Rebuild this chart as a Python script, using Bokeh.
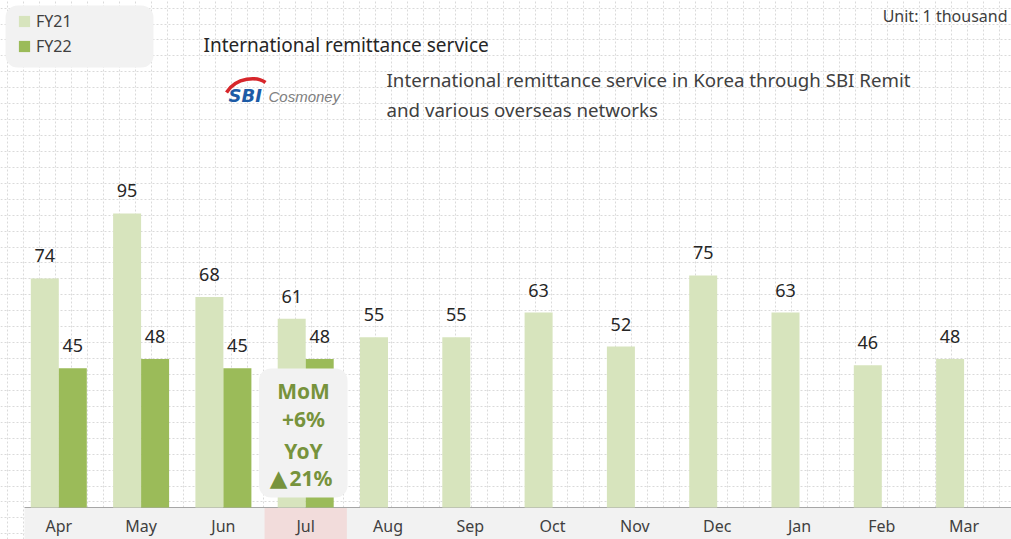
import numpy as np
from bokeh.plotting import figure
from bokeh.models import Range1d, FixedTicker, Legend, LegendItem, BoxAnnotation, Label
from bokeh.core.properties import value
from bokeh.embed import file_html
from bokeh.resources import INLINE

# ---------------- data ----------------
months = ["Apr", "May", "Jun", "Jul", "Aug", "Sep", "Oct", "Nov", "Dec", "Jan", "Feb", "Mar"]
fy21 = [74, 95, 68, 61, 55, 55, 63, 52, 75, 63, 46, 48]
fy22 = [45, 48, 45, 48]
series_names = ["FY21", "FY22"]
highlight_month = "Jul"
callout_lines = ["MoM", "+6%", "YoY", "\u25b221%"]
title_text = "International remittance service"
subtitle_lines = ["International remittance service in Korea through SBI Remit",
                  "and various overseas networks"]
unit_text = "Unit: 1 thousand"

# ---------------- layout helpers ----------------
W, H = 1011, 539
X0, DX = 58.3, 82.3      # pixel centre of first category, category spacing
BASE, PPU = 507, 3.095   # baseline pixel, pixels per unit

def X(px):
    return (px - X0) / DX

def Y(py):
    return (BASE - py) / PPU

FONT = "Noto Sans"
C21, C22 = "#d7e4bd", "#9bbb59"

p = figure(width=W, height=H, output_backend="svg", toolbar_location=None,
           x_range=Range1d(X(0), X(W)), y_range=Range1d(Y(H), Y(0)),
           min_border=0, min_border_left=0, min_border_right=0,
           min_border_top=0, min_border_bottom=0)
p.outline_line_color = None
p.background_fill_color = "white"
p.border_fill_color = "white"

# dotted background grid
gx = [X(6.7 + 16 * k) for k in range(64)]
gy = [Y(7.6 + 15.93 * k) for k in range(34)]
p.xgrid.ticker = FixedTicker(ticks=gx)
p.ygrid.ticker = FixedTicker(ticks=gy)
for g in (p.xgrid, p.ygrid):
    g.grid_line_color = "#dadada"
    g.grid_line_dash = "2 2"
    g.grid_line_width = 1

idx = np.arange(len(months))
BW = 28 / DX

# axis strip
p.quad(left=X(24), right=X(W), bottom=Y(H), top=0, fill_color="#f2f2f2", line_color=None)
hi = months.index(highlight_month)
p.quad(left=hi - 0.5, right=hi + 0.5, bottom=Y(H), top=0, fill_color="#f2dcdb", line_color=None)
p.segment(x0=X(24), x1=X(W), y0=0, y1=0, line_color="#a6a6a6", line_width=1)

# bars
r21 = p.vbar(x=idx - BW / 2, top=fy21, width=BW, fill_color=C21, line_color=None)
r22 = p.vbar(x=idx[:len(fy22)] + BW / 2, top=fy22, width=BW, fill_color=C22, line_color=None)

# value labels
p.text(x=idx - BW / 2, y=fy21, text=[str(v) for v in fy21], text_align="center",
       text_baseline="bottom", y_offset=-16, text_font=value(FONT), text_font_size="18px",
       text_color="#262626")
p.text(x=idx[:len(fy22)] + BW / 2, y=fy22, text=[str(v) for v in fy22], text_align="center",
       text_baseline="bottom", y_offset=-16, text_font=value(FONT), text_font_size="18px",
       text_color="#262626")

# axes
p.yaxis.visible = False
xa = p.xaxis[0]
xa.fixed_location = 0
xa.ticker = FixedTicker(ticks=list(idx))
xa.major_label_overrides = {int(i): m for i, m in zip(idx, months)}
xa.major_tick_line_color = None
xa.minor_tick_line_color = None
xa.major_tick_out = 0
xa.major_tick_in = 0
xa.minor_tick_out = 0
xa.axis_line_color = None
xa.major_label_standoff = 7
xa.major_label_text_font = FONT
xa.major_label_text_font_size = "16px"
xa.major_label_text_color = "#404040"

# legend with rounded background
p.add_layout(BoxAnnotation(left=X(5), right=X(153), top=Y(5), bottom=Y(67),
                           fill_color="#f2f2f2", fill_alpha=1, line_color=None,
                           border_radius=12))
legend = Legend(items=[LegendItem(label=series_names[0], renderers=[r21]),
                       LegendItem(label=series_names[1], renderers=[r22])],
                location=(5, H - 69), orientation="vertical",
                glyph_width=14, glyph_height=14, label_height=14, label_standoff=5,
                spacing=3, padding=12, margin=0,
                label_text_font=FONT, label_text_font_size="16px", label_text_color="#404040",
                background_fill_alpha=0, border_line_alpha=0)
p.add_layout(legend)

# titles
p.add_layout(Label(x=X(203), y=Y(44), text=title_text, text_font=FONT, text_font_size="19px",
                   text_color="#262626", text_baseline="middle", text_align="left"))
for k, line in enumerate(subtitle_lines):
    p.add_layout(Label(x=X(386), y=Y(79 + 30 * k), text=line, text_font=FONT,
                       text_font_size="18.7px", text_color="#404040",
                       text_baseline="middle", text_align="left"))
p.add_layout(Label(x=X(1007), y=Y(15), text=unit_text, text_font=FONT, text_font_size="16px",
                   text_color="#404040", text_baseline="middle", text_align="right"))

# logo (SBI Cosmoney)
p.bezier(x0=[X(226)], y0=[Y(92)], x1=[X(265)], y1=[Y(82)],
         cx0=[X(236)], cy0=[Y(76)], cx1=[X(257)], cy1=[Y(76)],
         line_color="#d7262b", line_width=3.5)
p.add_layout(Label(x=X(228), y=Y(95), text="SBI", text_font="DejaVu Sans", text_font_size="18px",
                   text_font_style="bold italic", text_color="#1d5ba6",
                   text_baseline="middle", text_align="left"))
p.add_layout(Label(x=X(268), y=Y(96), text="Cosmoney", text_font="Liberation Sans",
                   text_font_size="15px", text_font_style="italic", text_color="#808080",
                   text_baseline="middle", text_align="left"))

# callout box
p.add_layout(BoxAnnotation(left=X(258.5), right=X(347), top=Y(368), bottom=Y(497),
                           fill_color="#f2f2f2", fill_alpha=1, line_color=None,
                           border_radius=12))
GREEN = "#77933c"
for line, py in zip(callout_lines[:3], [390, 418, 450]):
    p.add_layout(Label(x=X(303), y=Y(py), text=line, text_font=FONT, text_font_size="21px",
                       text_font_style="bold", text_color=GREEN,
                       text_baseline="middle", text_align="center"))
last = callout_lines[3]
p.add_layout(Label(x=X(278), y=Y(477), text=last[0], text_font="DejaVu Sans", text_font_size="23px",
                   text_color=GREEN, text_baseline="middle", text_align="center"))
p.add_layout(Label(x=X(289), y=Y(477), text=last[1:], text_font=FONT, text_font_size="21px",
                   text_font_style="bold", text_color=GREEN,
                   text_baseline="middle", text_align="left"))

open("out.html", "w").write(file_html(p, INLINE))
